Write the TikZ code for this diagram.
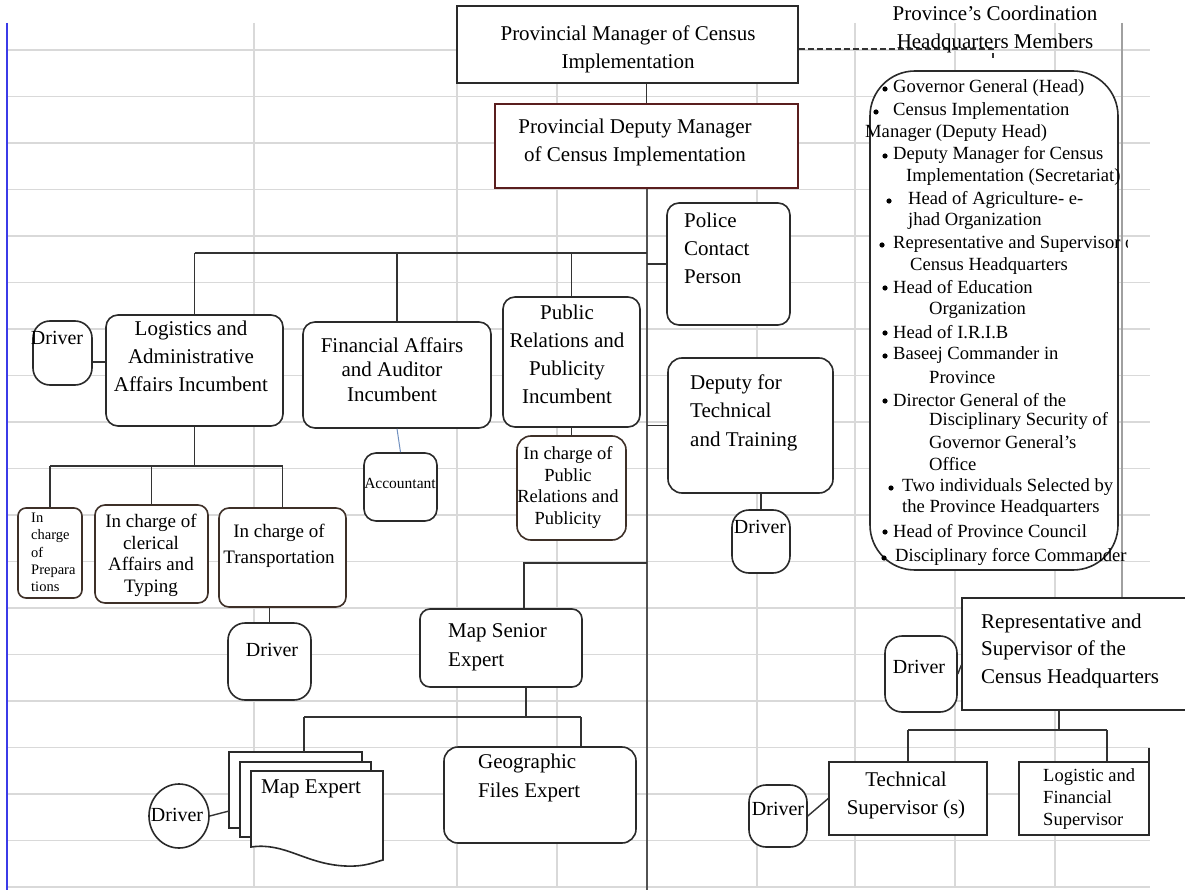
\documentclass[tikz,border=0pt]{standalone}
\usepackage{fontspec}
\setmainfont{Liberation Serif}
\usetikzlibrary{shapes.geometric}
\definecolor{gridc}{HTML}{D9D9D9}
\definecolor{bluel}{HTML}{3B3BE8}
\definecolor{connc}{HTML}{333333}
\definecolor{boxc}{HTML}{2A2A2A}
\definecolor{maroonc}{HTML}{5A1E1E}
\definecolor{brownc}{HTML}{3E3028}
\definecolor{accl}{HTML}{7090C0}
\definecolor{greyl}{HTML}{A0A0A0}
\begin{document}
\begin{tikzpicture}[x=1pt,y=-1pt,
  box/.style={draw=boxc, line width=1.6pt, fill=white, inner sep=0pt, rectangle},
  rbox/.style={box, rounded corners=12pt},
  drv/.style={box, rounded corners=17pt},
  conn/.style={draw=connc, line width=1.4pt},
  gridl/.style={draw=gridc, line width=1.6pt},
  big/.style={font=\fontsize{21}{28}\selectfont, inner sep=0pt, align=center},
  lst/.style={font=\fontsize{18.6}{22}\selectfont, inner sep=0pt, anchor=west},
  dtxt/.style={font=\fontsize{20}{24}\selectfont, inner sep=0pt},
]
\useasboundingbox (0,0) rectangle (1185,890);
\clip (0,0) rectangle (1185,890);
\fill[white] (0,0) rectangle (1185,890);
% ---- background grid
\foreach \k in {0,...,18} { \draw[gridl] (7,50+46.5*\k) -- (1150,50+46.5*\k); }
\foreach \x in {254,457,557,757,855,955,1055} { \draw[gridl] (\x,23) -- (\x,888); }
\draw[draw=greyl, line width=2.6pt] (1122,23) -- (1122,598);
\draw[draw=bluel, line width=2.6pt] (7,23) -- (7,890);

% ---- boxes
\node[box, minimum width=341pt, minimum height=77pt] (top) at (627.5,44.5) {};
\node[box, draw=maroonc, line width=1.9pt, minimum width=303pt, minimum height=84pt] (dep) at (646.5,146) {};
\node[rbox, minimum width=123pt, minimum height=122pt] (police) at (728.5,264) {};
\node[rbox, rounded corners=14pt, minimum width=165pt, minimum height=135pt] (dtech) at (750.5,425.5) {};
\node[drv, minimum width=58pt, minimum height=63pt] (ddrv) at (761,541.5) {};
\node[rbox, minimum width=177pt, minimum height=111pt] (log) at (194.5,370.5) {};
\node[drv, minimum width=59pt, minimum height=64pt] (ldrv) at (62.5,353) {};
\node[rbox, minimum width=188pt, minimum height=106pt] (fin) at (397,375) {};
\node[rbox, minimum width=137pt, minimum height=130pt] (pr) at (571.5,362) {};
\node[rbox, minimum width=73pt, minimum height=68pt] (acc) at (400.5,487) {};
\node[rbox, draw=brownc, rounded corners=14pt, minimum width=109pt, minimum height=104pt] (inpr) at (571.5,488) {};
\node[rbox, draw=brownc, rounded corners=8pt, minimum width=64pt, minimum height=90pt] (prep) at (50,553) {};
\node[rbox, draw=brownc, rounded corners=10pt, minimum width=113pt, minimum height=98pt] (cler) at (151.5,554) {};
\node[rbox, draw=brownc, rounded corners=10pt, minimum width=127pt, minimum height=99pt] (trans) at (282.5,557.5) {};
\node[drv, minimum width=83pt, minimum height=77pt] (tdrv) at (269.5,661.5) {};
\node[rbox, rounded corners=10pt, minimum width=162pt, minimum height=78pt] (msen) at (501,648) {};
\node[rbox, rounded corners=14pt, minimum width=192pt, minimum height=96pt] (geo) at (540,795) {};
\node[box, ellipse, minimum width=60pt, minimum height=64pt] (mdrv) at (179,816) {};
\node[box, rounded corners=45pt, minimum width=248pt, minimum height=499pt] (coord) at (994,320.5) {};
\node[box, line width=1.3pt, minimum width=228pt, minimum height=112pt] (rep) at (1076,654) {};
\node[drv, minimum width=72pt, minimum height=76pt] (rdrv) at (921,674) {};
\node[box, minimum width=158pt, minimum height=73pt] (tech) at (908,798.5) {};
\node[box, minimum width=130pt, minimum height=73pt] (lfin) at (1084,798.5) {};
\node[drv, minimum width=58pt, minimum height=62pt] (tsdrv) at (778,816) {};

% ---- map expert (multi-document)
\coordinate (stack) at (304,752);
\coordinate (stackl) at (229,811);
\filldraw[draw=boxc, fill=white, line width=1.6pt] (229,752) rectangle (362,828);
\filldraw[draw=boxc, fill=white, line width=1.6pt] (240,762) rectangle (371,837);
\filldraw[draw=boxc, fill=white, line width=1.6pt] (251,771) -- (383,771) -- (383,860)
  .. controls (375,862) and (365,867) .. (345,866)
  .. controls (305,864) and (285,842) .. (251,847) -- cycle;

% ---- connectors
\coordinate (mainend) at (646.5,890);
\coordinate (bus) at (646.5,253);
\draw[draw=connc!85, line width=2pt] (dep.south) -- (mainend);
\draw[conn] (dep.north |- top.south) -- (dep.north);
\draw[draw=connc, line width=2.6pt] (log.north |- bus) -- (bus);
\draw[conn] (log.north |- bus) -- (log.north);
\draw[conn] (fin.north |- bus) -- (fin.north);
\draw[conn] (pr.north |- bus) -- (pr.north);
\draw[conn] (police.west -| bus) -- (police.west);
\draw[conn] (dtech.west -| bus) -- (dtech.west);
\draw[conn] (ddrv.north |- dtech.south) -- (ddrv.north);
\coordinate (msj) at (646.5,563);
\coordinate (msd) at (524,563);
\draw[conn] (msj) -- (msd) -- (msd |- msen.north);
\draw[conn] ([yshift=-9pt]ldrv.east) -- ([yshift=-9pt]ldrv.east -| log.west);
\coordinate (lb) at (194.5,466);
\draw[conn] (log.south) -- (lb);
\draw[conn] (prep.north |- lb) -- (trans.north |- lb);
\draw[conn] (prep.north |- lb) -- (prep.north);
\draw[conn] (cler.north |- lb) -- (cler.north);
\draw[conn] (trans.north |- lb) -- (trans.north);
\draw[conn] (tdrv.north |- trans.south) -- (tdrv.north);
\draw[draw=accl, line width=1pt] (fin.south) -- (acc.north);
\draw[conn] (pr.south) -- (inpr.north);
\coordinate (mb) at (526,717);
\coordinate (ms1) at (304,717);
\coordinate (ms2) at (581,717);
\draw[conn] (mb |- msen.south) -- (mb);
\draw[conn] (ms1) -- (ms2);
\draw[conn] (ms1) -- (stack);
\draw[conn] (ms2) -- (ms2 |- geo.north);
\draw[conn] (mdrv.east) -- (stackl);
\draw[conn] (rdrv.east) -- ([yshift=-11pt]rep.west);
\coordinate (rb) at (1059,730);
\coordinate (rb2) at (1107,730);
\draw[conn] (rb |- rep.south) -- (rb);
\draw[conn] (tech.north |- rb) -- (rb2);
\draw[conn] (tech.north |- rb) -- (tech.north);
\draw[conn] (rb2) -- (rb2 |- lfin.north);
\coordinate (lfe) at (1149,748);
\draw[draw=boxc, line width=1.8pt] (lfe) -- (lfe |- lfin.north);
\draw[conn] (tsdrv.east) -- (tech.west);
\coordinate (dsh) at (993,49);
\coordinate (dshb) at (993,58);
\draw[draw=connc, line width=1.8pt, dash pattern=on 6pt off 3pt] ([yshift=-4.5pt]top.east) -- (dsh) -- (dshb);

% ---- texts
\node[big] (topT) at (628,49) {Provincial Manager of Census\\Implementation};
\node[big] (depT) at (635,142.5) {Provincial Deputy Manager\\of Census Implementation};
\node[big] (coordT) at (995,29) {Province’s Coordination\\Headquarters Members};
\node[big, anchor=west, align=left] (policeT) at (684,248) {Police\\Contact\\Person};
\node[big, anchor=west, align=left, font=\fontsize{21}{28.5}\selectfont] (dtechT) at (690,412.5) {Deputy for\\Technical\\and Training};
\node[big] (logT) at (191,356) {Logistics and\\Administrative\\Affairs Incumbent};
\node[big, font=\fontsize{21}{24.5}\selectfont] (finT) at (392,369.5) {Financial Affairs\\and Auditor\\Incumbent};
\node[big] (prT) at (567,354.5) {Public\\Relations and\\Publicity\\Incumbent};
\node[big, font=\fontsize{18.5}{21.7}\selectfont] (inprT) at (568,487.5) {In charge of\\Public\\Relations and\\Publicity};
\node[big, font=\fontsize{15.5}{18}\selectfont] (accT) at (400,483) {Accountant};
\node[big, anchor=west, align=left, font=\fontsize{14.5}{17.25}\selectfont] (prepT) at (31,552.5) {In\\charge\\of\\Prepara\\tions};
\node[big, font=\fontsize{19}{21.7}\selectfont] (clerT) at (151,555.5) {In charge of\\clerical\\Affairs and\\Typing};
\node[big, font=\fontsize{19}{26}\selectfont] (transT) at (279,546) {In charge of\\Transportation};
\node[dtxt] (ldrvT) at (57,338) {Driver};
\node[dtxt] (tdrvT) at (272,650) {Driver};
\node[dtxt] (ddrvT) at (760,527) {Driver};
\node[dtxt] (mdrvT) at (177,815) {Driver};
\node[dtxt] (rdrvT) at (919,667) {Driver};
\node[dtxt] (tsdrvT) at (778,809) {Driver};
\node[big, anchor=west, align=left, font=\fontsize{21}{29}\selectfont] (msenT) at (448,647.5) {Map Senior\\Expert};
\node[big, anchor=west, align=left, font=\fontsize{21}{29}\selectfont] (geoT) at (478,777.5) {Geographic\\Files Expert};
\node[big, anchor=west] (mapT) at (261,789) {Map Expert};
\node[big, anchor=west, align=left, font=\fontsize{21}{27.5}\selectfont] (repT) at (981,650.5) {Representative and\\Supervisor of the\\Census Headquarters};
\node[big] (techT) at (906,795) {Technical\\Supervisor (s)};
\node[big, anchor=west, align=left, font=\fontsize{18.5}{22}\selectfont] (lfinT) at (1043,799) {Logistic and\\Financial\\Supervisor};

% ---- coordination members list
\foreach \bx/\by in {885/88, 876/111, 885/155, 889/200, 882/244, 885/287, 885/332, 885/355, 885/400, 891/487, 885/531, 884/557}
  { \fill[black] (\bx,\by+1) circle (2.6pt); }
\node[lst] (c1) at (893,88) {Governor General (Head)};
\node[lst] (c2) at (893,111) {Census Implementation};
\node[lst] (c3) at (865,133) {Manager (Deputy Head)};
\node[lst] (c4) at (893,155) {Deputy Manager for Census};
\node[lst] (c5) at (906,177) {Implementation (Secretariat)};
\node[lst] (c6) at (908,200) {Head of Agriculture- e-};
\node[lst] (c7) at (908,221) {jhad Organization};
\begin{scope}
\clip (850,225) rectangle (1127,262);
\node[lst] (c8) at (893,244) {Representative and Supervisor of};
\end{scope}
\node[lst] (c9) at (910,266) {Census Headquarters};
\node[lst] (c10) at (893,287) {Head of Education};
\node[lst] (c11) at (929,310) {Organization};
\node[lst] (c12) at (893,332) {Head of I.R.I.B};
\node[lst] (c13) at (893,355) {Baseej Commander in};
\node[lst] (c14) at (929,377) {Province};
\node[lst] (c15) at (893,400) {Director General of the};
\node[lst] (c16) at (929,421) {Disciplinary Security of};
\node[lst] (c17) at (929,442) {Governor General’s};
\node[lst] (c18) at (929,464) {Office};
\node[lst] (c19) at (902,487) {Two individuals Selected by};
\node[lst] (c20) at (902,508) {the Province Headquarters};
\node[lst] (c21) at (893,531) {Head of Province Council};
\node[lst] (c22) at (895,557) {Disciplinary force Commander};
\end{tikzpicture}
\end{document}
